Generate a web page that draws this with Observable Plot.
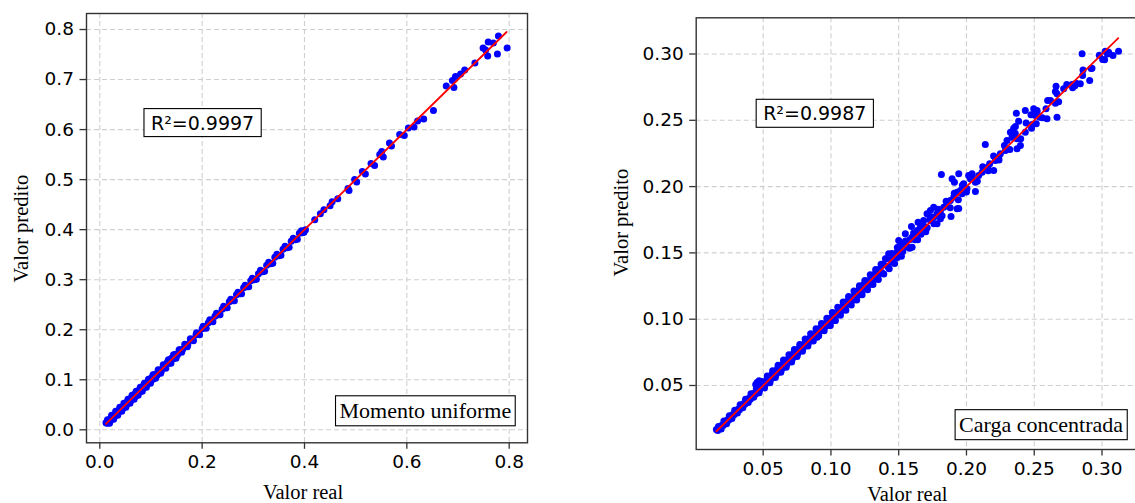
<!DOCTYPE html>
<html><head><meta charset="utf-8">
<script src="https://cdn.jsdelivr.net/npm/d3@7"></script>
<script src="https://cdn.jsdelivr.net/npm/@observablehq/plot@0.6"></script>
<style>
html,body{margin:0;padding:0;background:#fff;overflow:hidden;}
#wrap{position:relative;width:1135px;height:503px;overflow:hidden;background:#fff;}
#left{position:absolute;left:0;top:0;width:545px;height:503px;}
#right{position:absolute;left:600px;top:0;width:545px;height:503px;}
svg{max-width:none !important;}
</style></head><body>
<div id="wrap"><div id="left"></div><div id="right"></div></div>
<script>
// ---- Panel 1: Momento uniforme (real value, predicted value) ----
const uniformReal = [0.012,0.014,0.016,0.018,0.020,0.022,0.024,0.026,0.028,0.030,0.033,0.035,0.038,0.040,0.043,0.045,0.048,0.050,0.053,0.055,0.058,0.060,0.063,0.065,0.068,0.070,0.073,0.075,0.078,0.080,0.083,0.086,0.089,0.092,0.095,0.098,0.101,0.104,0.108,0.112,0.116,0.120,0.124,0.128,0.132,0.136,0.140,0.144,0.148,0.152,0.157,0.162,0.167,0.172,0.177,0.182,0.188,0.194,0.200,0.206,0.212,0.218,0.225,0.232,0.239,0.246,0.253,0.260,0.267,0.274,0.281,0.288,0.295,0.302,0.310,0.318,0.326,0.334,0.342,0.350,0.358,0.366,0.374,0.382,0.390,0.396,
  0.402,0.420,0.431,0.438,0.450,0.454,0.465,0.485,0.487,0.498,0.502,0.513,0.519,0.530,0.537,0.551,0.547,0.554,0.566,0.570,0.586,0.595,0.603,0.614,0.621,0.633,0.652,0.677,0.692,0.689,0.695,0.705,0.713,0.733,0.749,0.754,0.758,0.759,0.769,0.777,0.779,0.796];
const uniformPred = [0.014,0.013,0.017,0.016,0.021,0.020,0.025,0.024,0.029,0.028,0.034,0.033,0.039,0.038,0.045,0.043,0.050,0.048,0.055,0.053,0.061,0.058,0.066,0.063,0.071,0.067,0.077,0.073,0.080,0.077,0.086,0.084,0.092,0.090,0.098,0.096,0.104,0.101,0.111,0.109,0.119,0.117,0.127,0.125,0.135,0.133,0.143,0.142,0.151,0.150,0.160,0.161,0.170,0.170,0.180,0.181,0.190,0.192,0.202,0.204,0.214,0.217,0.227,0.230,0.241,0.244,0.256,0.258,0.270,0.272,0.284,0.286,0.298,0.300,0.312,0.316,0.329,0.332,0.345,0.348,0.361,0.364,0.377,0.380,0.393,0.394,
  0.400,0.420,0.432,0.440,0.448,0.456,0.462,0.482,0.478,0.500,0.495,0.516,0.511,0.532,0.528,0.556,0.550,0.545,0.573,0.567,0.590,0.588,0.603,0.605,0.617,0.621,0.638,0.687,0.684,0.698,0.706,0.711,0.719,0.733,0.763,0.759,0.747,0.775,0.773,0.751,0.787,0.763];
const uniformBandReal = [0.015,0.019,0.023,0.027,0.031,0.035,0.039,0.043,0.047,0.051,0.055,0.059,0.063,0.067,0.071,0.075,0.079,0.083,0.087,0.091,0.095,0.099,0.104,0.109,0.114,0.119,0.124,0.129,0.134,0.139,0.144,0.149,0.155,0.160,0.166,0.171,0.177,0.183,0.189,0.195,0.202,0.208,0.215,0.221,0.228,0.235,0.242,0.249,0.256,0.263,0.270,0.277,0.284,0.291,0.298,0.306,0.314,0.322,0.330,0.338,0.346,0.354,0.362,0.370,0.378,0.386,0.394,0.399];
const uniformBandPred = [0.020,0.013,0.029,0.021,0.037,0.029,0.045,0.037,0.053,0.045,0.061,0.053,0.069,0.061,0.077,0.069,0.085,0.077,0.093,0.085,0.101,0.093,0.110,0.103,0.120,0.113,0.130,0.123,0.140,0.133,0.150,0.143,0.160,0.155,0.171,0.166,0.182,0.178,0.194,0.190,0.207,0.203,0.220,0.216,0.233,0.230,0.247,0.244,0.261,0.258,0.275,0.272,0.289,0.286,0.303,0.301,0.319,0.317,0.335,0.333,0.351,0.349,0.367,0.365,0.383,0.381,0.398,0.395];
const uniformFit = [0.012, 0.795];

// ---- Panel 2: Carga concentrada (real value, predicted value) ----
const concReal = [0.0155,0.0165,0.0175,0.0185,0.0195,0.0205,0.0215,0.0225,0.0235,0.0245,0.0255,0.0265,0.0275,0.0285,0.0295,0.0305,0.0315,0.0325,0.0335,0.0345,0.0355,0.0365,0.0375,0.0385,0.0395,0.0405,0.0415,0.0425,0.0435,0.0445,0.0445,0.0455,0.0460,0.0470,0.0475,0.0485,0.0495,0.0505,0.0515,0.0525,0.0535,0.0545,0.0555,0.0565,0.0575,0.0585,0.0595,0.0605,0.0615,0.0625,0.0635,0.0645,0.0655,0.0665,0.0675,0.0685,0.0695,0.0705,0.0715,0.0725,0.0735,0.0745,0.0755,0.0765,0.0775,0.0785,0.0795,0.0805,0.0815,0.0825,0.0835,0.0845,0.0855,0.0865,0.0875,0.0885,0.0898,0.0905,0.0915,0.0925,0.0935,0.0945,0.0959,0.0960,0.0975,0.0985,0.0996,0.1000,0.1015,0.1033,0.1030,0.1045,0.1060,0.1075,0.1090,0.1105,0.1120,0.1135,0.1150,0.1165,0.1180,0.1195,0.1210,0.1225,0.1240,0.1255,0.1270,0.1285,0.1300,0.1315,0.1330,0.1345,0.1360,0.1375,0.1390,0.1402,0.1426,0.1420,0.1440,0.1455,0.1470,0.1488,0.1490,0.1500,0.1513,0.1510,0.1530,0.1545,0.1549,0.1565,0.1580,0.1594,0.1599,0.1600,0.1620,0.1636,0.1643,0.1640,0.1660,0.1665,0.1684,0.1690,0.1709,0.1710,0.1734,0.1734,0.1758,0.1758,0.1783,0.1783,0.1808,0.1808,0.1832,0.1857,0.1881,0.1886,0.1906,0.1931,0.1931,
  0.1815,0.1943,0.1894,0.1911,0.1979,0.2004,0.1955,0.1968,0.2066,0.1943,0.2016,0.2029,0.2041,0.2066,0.2090,0.2115,0.2157,0.2171,0.2201,0.2213,0.2238,0.2250,0.2139,0.2287,0.2299,0.2324,0.2336,0.2348,0.2361,0.2373,0.2373,0.2385,0.2398,0.2368,0.2434,0.2434,0.2476,0.2484,0.2496,0.2508,0.2515,0.2521,0.2540,0.2587,0.2594,0.2599,0.2656,0.2656,0.2661,0.2668,0.2668,0.2717,0.2779,0.2783,0.2808,0.2840,0.2857,0.2909,0.2926,0.2853,0.3005,0.3019,0.3024,0.3049,0.3081,0.3122];
const concPred = [0.0168,0.0160,0.0178,0.0180,0.0200,0.0198,0.0220,0.0218,0.0240,0.0238,0.0260,0.0258,0.0281,0.0279,0.0301,0.0298,0.0321,0.0318,0.0342,0.0338,0.0362,0.0358,0.0382,0.0377,0.0403,0.0397,0.0423,0.0416,0.0444,0.0436,0.0508,0.0522,0.0455,0.0535,0.0468,0.0497,0.0487,0.0518,0.0505,0.0540,0.0525,0.0560,0.0545,0.0585,0.0562,0.0600,0.0582,0.0625,0.0602,0.0640,0.0620,0.0662,0.0640,0.0685,0.0660,0.0700,0.0680,0.0722,0.0700,0.0745,0.0722,0.0758,0.0740,0.0780,0.0762,0.0800,0.0782,0.0815,0.0802,0.0840,0.0822,0.0858,0.0842,0.0878,0.0862,0.0895,0.0864,0.0920,0.0905,0.0938,0.0925,0.0958,0.0968,0.0945,0.0985,0.0970,0.0952,0.1010,0.1000,0.0990,0.1045,0.1035,0.1072,0.1060,0.1102,0.1085,0.1135,0.1118,0.1165,0.1145,0.1195,0.1175,0.1225,0.1200,0.1260,0.1235,0.1290,0.1262,0.1318,0.1295,0.1350,0.1322,0.1378,0.1352,0.1410,0.1456,0.1493,0.1395,0.1462,0.1430,0.1490,0.1505,0.1465,0.1594,0.1569,0.1525,0.1510,0.1560,0.1644,0.1545,0.1600,0.1699,0.1543,0.1620,0.1600,0.1669,0.1732,0.1650,0.1694,0.1640,0.1744,0.1700,0.1795,0.1690,0.1744,0.1820,0.1769,0.1845,0.1795,0.1719,0.1820,0.1757,0.1845,0.1882,0.1895,0.1775,0.1920,0.1958,0.1833,
  0.2091,0.2097,0.2059,0.2033,0.2021,0.1983,0.1971,0.1946,0.1963,0.1835,0.2084,0.2059,0.2097,0.2033,0.2084,0.2109,0.2146,0.2172,0.2121,0.2197,0.2222,0.2247,0.2318,0.2272,0.2348,0.2410,0.2372,0.2440,0.2453,0.2360,0.2285,0.2493,0.2310,0.2554,0.2574,0.2410,0.2541,0.2468,0.2587,0.2536,0.2474,0.2574,0.2523,0.2587,0.2511,0.2649,0.2629,0.2717,0.2757,0.2700,0.2523,0.2738,0.2770,0.2745,0.2780,0.2775,0.2838,0.2800,0.2893,0.3001,0.2959,0.2956,0.3021,0.3014,0.2989,0.3021];
const concBandReal = [0.017,0.019,0.021,0.023,0.025,0.027,0.029,0.031,0.033,0.035,0.037,0.039,0.041,0.043,0.045,0.047,0.049,0.051,0.053,0.055,0.057,0.059,0.061,0.063,0.065,0.067,0.069,0.071,0.073,0.075,0.077,0.079,0.081,0.083,0.085,0.087,0.089,0.091,0.093,0.095,0.097,0.099,0.101,0.103,0.105,0.107,0.109,0.111,0.113,0.115,0.117,0.119,0.121,0.123,0.125,0.127,0.129,0.131,0.133,0.135,0.137,0.139,0.141,0.143,0.145,0.147,0.149,0.152,0.155,0.158,0.161,0.164,0.167,0.170,0.173,0.176,0.179,0.182,0.185,0.188,0.191,0.194,0.197,0.200,0.204,0.208,0.212,0.216,0.220,0.224,0.228,0.232,0.236,0.240,0.244,0.248,0.252,0.256,0.262,0.268,0.274,0.280,0.286,0.292,0.298,0.304];
const concBandPred = [0.0190,0.0172,0.0232,0.0212,0.0272,0.0252,0.0313,0.0292,0.0355,0.0332,0.0396,0.0372,0.0437,0.0412,0.0480,0.0445,0.0530,0.0482,0.0572,0.0520,0.0612,0.0560,0.0652,0.0600,0.0692,0.0638,0.0732,0.0678,0.0772,0.0718,0.0810,0.0758,0.0850,0.0798,0.0890,0.0835,0.0928,0.0875,0.0968,0.0912,0.1008,0.0952,0.1050,0.0990,0.1090,0.1030,0.1130,0.1068,0.1172,0.1108,0.1212,0.1145,0.1252,0.1185,0.1292,0.1222,0.1335,0.1262,0.1375,0.1300,0.1415,0.1340,0.1455,0.1380,0.1495,0.1420,0.1540,0.1475,0.1590,0.1535,0.1650,0.1600,0.1710,0.1660,0.1770,0.1720,0.1830,0.1780,0.1890,0.1840,0.1950,0.1900,0.2010,0.1960,0.2070,0.2040,0.2150,0.2120,0.2230,0.2200,0.2310,0.2280,0.2400,0.2360,0.2480,0.2440,0.2560,0.2520,0.2650,0.2640,0.2770,0.2760,0.2880,0.2890,0.2990,0.3000];
const concFit = [0.0155, 0.312];

// ---- Tick values and texts ----
const uniformXTicks = [0, 0.2, 0.4, 0.6, 0.8];
const uniformYTicks = [0, 0.1, 0.2, 0.3, 0.4, 0.5, 0.6, 0.7, 0.8];
const concXTicks = [0.05, 0.10, 0.15, 0.20, 0.25, 0.30];
const concYTicks = [0.05, 0.10, 0.15, 0.20, 0.25, 0.30];
const xLabelText = ["Valor real"];
const yLabelText = ["Valor predito"];
const r2Texts = ["R²=0.9997", "R²=0.9987"];
const caseTexts = ["Momento uniforme", "Carga concentrada"];

function panel(o) {
  const real = o.real.concat(o.bandReal), pred = o.pred.concat(o.bandPred);
  const pts = real.map((v, i) => ({x: v, y: pred[i]}));
  const fit = o.fit.map(v => ({x: v, y: v}));
  const tickFont = {fontFamily: "DejaVu Sans", fontSize: 18.5};
  return Plot.plot({
    width: o.width, height: 503,
    marginLeft: o.m[0], marginRight: o.m[1], marginTop: o.m[2], marginBottom: o.m[3],
    style: {background: "#fff", color: "#000", fontFamily: "DejaVu Sans", fontSize: "18.5px", overflow: "visible", maxWidth: "none"},
    x: {domain: o.xDomain},
    y: {domain: o.yDomain},
    marks: [
      Plot.gridX(o.xTicks, {stroke: "#cfcfcf", strokeOpacity: 1, strokeWidth: 1.1, strokeDasharray: "5,3"}),
      Plot.gridY(o.yTicks, {stroke: "#cfcfcf", strokeOpacity: 1, strokeWidth: 1.1, strokeDasharray: "5,3"}),
      Plot.dot(pts, {x: "x", y: "y", r: 3.5, fill: "#0000ff", stroke: "none"}),
      Plot.line(fit, {x: "x", y: "y", stroke: "#ff0000", strokeWidth: 1.8}),
      Plot.frame({stroke: "#333", strokeWidth: 1.4}),
      Plot.axisX(o.xTicks, {tickFormat: o.fmt, tickSize: 6.5, tickPadding: 6, stroke: "#333", strokeWidth: 1.3, label: null, ...tickFont}),
      Plot.axisY(o.yTicks, {tickFormat: o.fmt, tickSize: 6.5, tickPadding: 6, stroke: "#333", strokeWidth: 1.3, label: null, ...tickFont}),
      Plot.text(xLabelText, {text: d => d, frameAnchor: "bottom", textAnchor: "middle", lineAnchor: "bottom", dx: o.xl[0], dy: o.xl[1], fontFamily: "Liberation Serif", fontSize: 20.5, fill: "#000"}),
      Plot.text(yLabelText, {text: d => d, frameAnchor: "left", textAnchor: "middle", rotate: -90, lineAnchor: "middle", dx: o.yl[0], dy: o.yl[1], fontFamily: "Liberation Serif", fontSize: 20.5, fill: "#000"}),
      Plot.text([o.r2], {x: o.r2Pos[0], y: o.r2Pos[1], text: d => d, textAnchor: "start", lineAnchor: "bottom", fontFamily: "DejaVu Sans", fontSize: 19, fill: "#000"}),
      Plot.text([o.caseText], {x: o.casePos[0], y: o.casePos[1], text: d => d, textAnchor: "end", lineAnchor: "bottom", fontFamily: "Liberation Serif", fontSize: 22, letterSpacing: o.caseSpacing, fill: "#000"})
    ]
  });
}

function addBoxes(svg, boxed) {
  svg.querySelectorAll("text").forEach(t => {
    const pad = boxed[t.textContent];
    if (!pad) return;
    const b = t.getBBox();
    const r = document.createElementNS("http://www.w3.org/2000/svg", "rect");
    r.setAttribute("x", b.x - pad[0]);
    r.setAttribute("y", b.y - pad[1]);
    r.setAttribute("width", b.width + 2 * pad[0]);
    r.setAttribute("height", b.height + 2 * pad[1]);
    r.setAttribute("fill", "#fff");
    r.setAttribute("stroke", "#000");
    r.setAttribute("stroke-width", "1.1");
    if (t.getAttribute("transform")) r.setAttribute("transform", t.getAttribute("transform"));
    t.parentNode.insertBefore(r, t);
  });
}

const boxPads = {};
r2Texts.forEach(s => boxPads[s] = [7, 3]);
caseTexts.forEach(s => boxPads[s] = [4, 2.5]);

const leftSvg = panel({
  real: uniformReal, pred: uniformPred, bandReal: uniformBandReal, bandPred: uniformBandPred, fit: uniformFit,
  width: 545, m: [86, 18, 13, 60.7],
  xDomain: [-0.026, 0.8358], yDomain: [-0.026, 0.832],
  xTicks: uniformXTicks, yTicks: uniformYTicks, fmt: d3.format(".1f"),
  xl: [-4, 56.5], yl: [-65, 0.5],
  r2: r2Texts[0], r2Pos: [0.1, 0.6],
  caseText: caseTexts[0], casePos: [0.804, 0.023], caseSpacing: 0
});
document.getElementById("left").appendChild(leftSvg);
addBoxes(leftSvg, boxPads);

const rightSvg = panel({
  real: concReal, pred: concPred, bandReal: concBandReal, bandPred: concBandPred, fit: concFit,
  width: 545, m: [95.7, 5, 17.3, 54],
  xDomain: [0.00059, 0.3284], yDomain: [0.00173, 0.3273],
  xTicks: concXTicks, yTicks: concYTicks, fmt: d3.format(".2f"),
  xl: [-11, 51], yl: [-75, -11],
  r2: r2Texts[1], r2Pos: [0.05, 0.25],
  caseText: caseTexts[1], casePos: [0.3155, 0.0148], caseSpacing: 0.35
});
document.getElementById("right").appendChild(rightSvg);
addBoxes(rightSvg, boxPads);
</script>
</body></html>
